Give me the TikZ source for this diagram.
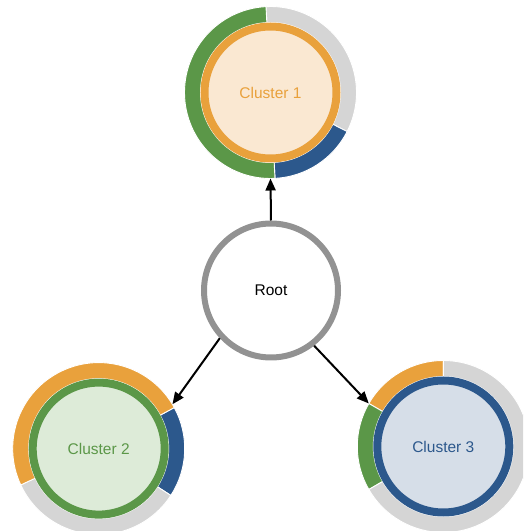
\documentclass[tikz,border=0pt]{standalone}
\usepackage{fontspec}
\setmainfont{Liberation Sans}
\usetikzlibrary{calc,arrows.meta}

\definecolor{corange}{RGB}{233,161,60}
\definecolor{corangelt}{RGB}{250,232,210}
\definecolor{cgreen}{RGB}{91,151,72}
\definecolor{cgreenlt}{RGB}{221,235,216}
\definecolor{cblue}{RGB}{44,88,140}
\definecolor{cbluelt}{RGB}{214,222,232}
\definecolor{cband}{RGB}{213,213,213}
\definecolor{croot}{RGB}{146,146,146}

% one coloured piece of the ring around a cluster: centre, start angle, end angle, colour
\newcommand\ringseg[4]{%
  \draw[segline, fill=#4] ($(#1)+(#2:70pt)$) arc[start angle=#2, end angle=#3, radius=70pt]
    -- ($(#1)+(#3:86pt)$) arc[start angle=#3, end angle=#2, radius=86pt] -- cycle;}

\begin{document}
\begin{tikzpicture}[x=1pt, y=1pt,
  segline/.style={draw=white, line width=0.9pt, line join=miter},
  cluster/.style={circle, line width=8pt, minimum size=132pt, inner sep=0pt,
    outer sep=20pt, font=\fontsize{15.5}{18}\selectfont},
  rootnode/.style={circle, draw=croot, fill=white, line width=6pt, minimum size=134pt,
    inner sep=0pt, font=\fontsize{15.5}{18}\selectfont},
  link/.style={draw=black, line width=2pt, -{Triangle[length=12pt, width=10pt]}}]
\useasboundingbox (0,0) rectangle (523,531);
\clip (0,0) rectangle (523,531);

\coordinate (k1) at (270.5,438.5);
\coordinate (k2) at (98.7,82.4);
\coordinate (k3) at (443.3,84.5);

% rings of shares around each cluster
\ringseg{k1}{93}{-27}{cband}
\ringseg{k1}{-27}{-87}{cblue}
\ringseg{k1}{-87}{-267}{cgreen}

\ringseg{k2}{28.5}{-33}{cblue}
\ringseg{k2}{-33}{-155}{cband}
\ringseg{k2}{205}{28.5}{corange}

\ringseg{k3}{90}{150}{corange}
\ringseg{k3}{150}{210}{cgreen}
\ringseg{k3}{210}{450}{cband}

% clusters and root
\node[cluster, draw=corange, fill=corangelt, text=corange] (c1) at (k1) {Cluster 1};
\node[cluster, draw=cgreen, fill=cgreenlt, text=cgreen] (c2) at (k2) {Cluster 2};
\node[cluster, draw=cblue, fill=cbluelt, text=cblue] (c3) at (k3) {Cluster 3};
\node[rootnode] (root) at (271,240.5) {Root};

% links
\draw[link] (root.north) -- (c1.south);
\draw[link] (root.223) -- (c2.31);
\draw[link] (root.308) -- (c3.150);
\end{tikzpicture}
\end{document}
